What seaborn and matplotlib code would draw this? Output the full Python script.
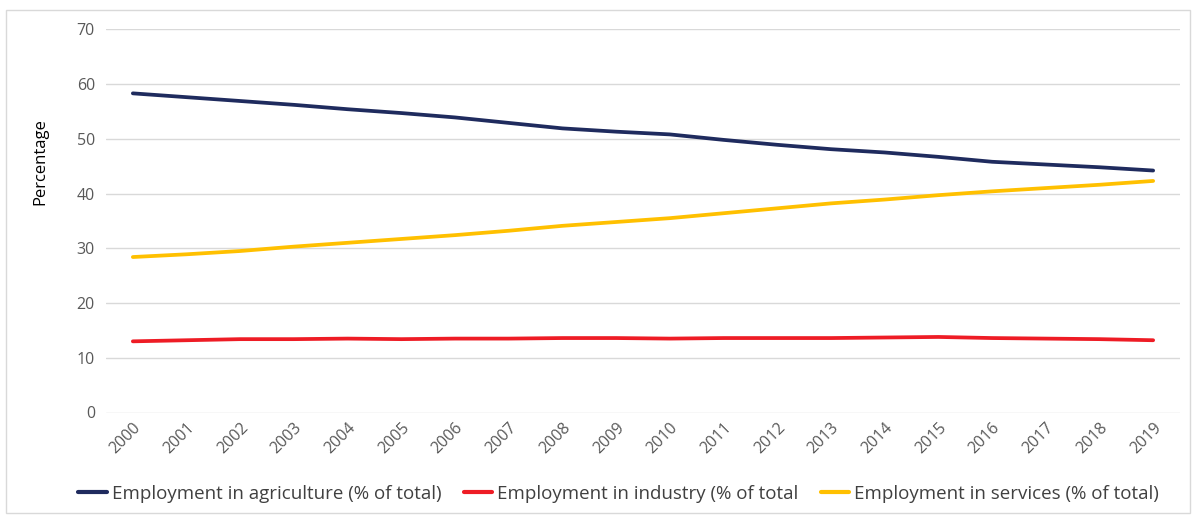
import matplotlib
matplotlib.use("Agg")
import matplotlib.pyplot as plt
from matplotlib.patches import Rectangle
import seaborn as sns
import pandas as pd

years = [str(y) for y in range(2000, 2020)]
agriculture = [58.3, 57.6, 56.9, 56.2, 55.4, 54.7, 53.9, 52.9, 51.9, 51.3,
               50.8, 49.8, 48.9, 48.1, 47.5, 46.7, 45.8, 45.3, 44.8, 44.2]
industry = [13.0, 13.2, 13.4, 13.4, 13.5, 13.4, 13.5, 13.5, 13.6, 13.6,
            13.5, 13.6, 13.6, 13.6, 13.7, 13.8, 13.6, 13.5, 13.4, 13.2]
services = [28.4, 28.9, 29.5, 30.3, 31.0, 31.7, 32.4, 33.2, 34.1, 34.8,
            35.5, 36.4, 37.3, 38.2, 38.9, 39.7, 40.4, 41.0, 41.6, 42.3]
series_names = ["Employment in agriculture (% of total)",
                "Employment in industry (% of total",
                "Employment in services (% of total)"]
colors = ["#1F2B5E", "#EE1C25", "#FFC000"]
y_ticks = [0, 10, 20, 30, 40, 50, 60, 70]

sns.set_theme(style="white")
plt.rcParams["font.family"] = ["Open Sans", "DejaVu Sans"]

frames = []
for name, vals in zip(series_names, [agriculture, industry, services]):
    frames.append(pd.DataFrame({"pos": range(len(years)), "value": vals, "series": name}))
df = pd.concat(frames, ignore_index=True)

W, H = 1197, 515
fig = plt.figure(figsize=(W / 100, H / 100), dpi=100)
ax = fig.add_axes([106 / W, 1 - 412.5 / H, (1180 - 106) / W, (412.5 - 29.3) / H])

# outer chart border
fig.patches.append(Rectangle((6 / W, 2 / H), 1184 / W, 503 / H,
                             transform=fig.transFigure, fill=False,
                             edgecolor="#D9D9D9", linewidth=1.0))

sns.lineplot(data=df, x="pos", y="value", hue="series", palette=colors,
             linewidth=2.7, ax=ax, legend=False, sort=False)

ax.set_xlim(-0.5, len(years) - 0.5)
ax.set_ylim(0, 70)
ax.set_yticks(y_ticks)
ax.set_xticks(range(len(years)))
ax.set_xticklabels(years, rotation=45, ha="right", rotation_mode="anchor")
ax.tick_params(axis="both", length=0, labelsize=11.5, colors="#595959")
ax.tick_params(axis="y", pad=8)
ax.tick_params(axis="x", pad=5)
ax.grid(axis="y", color="#D9D9D9", linewidth=1.0)
ax.set_axisbelow(True)
for s in ax.spines.values():
    s.set_visible(False)
ax.set_xlabel("")
ax.set_ylabel("Percentage", fontsize=12, color="#000000")
ax.yaxis.set_label_coords(-58 / (1180 - 106), 0.654)

handles = [plt.Line2D([0], [0], color=c, linewidth=3) for c in colors]
fig.legend(handles, series_names, loc="center", bbox_to_anchor=(0.517, 1 - 494 / H),
           ncol=3, frameon=False, fontsize=13.5, handlelength=1.5, handletextpad=0.28,
           columnspacing=1.2, labelcolor="#404040")

fig.savefig("out.png", dpi=100)
